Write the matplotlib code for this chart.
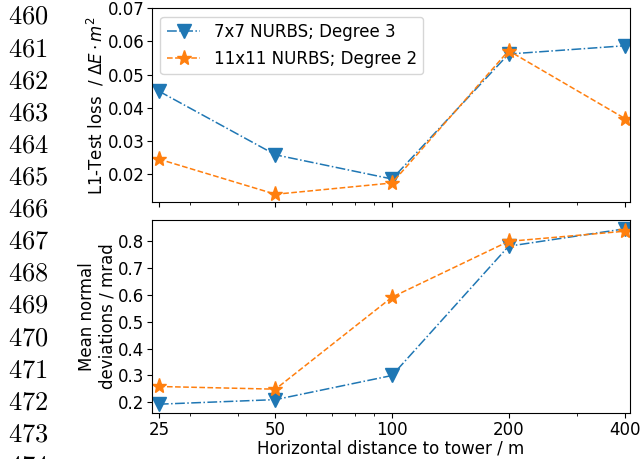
import matplotlib

matplotlib.use("Agg")
import matplotlib.pyplot as plt
from matplotlib.ticker import FixedLocator, NullFormatter

plt.rcParams["mathtext.fontset"] = "dejavusans"

distances = [25, 50, 100, 200, 400]
loss_7x7 = [0.0450, 0.0258, 0.0185, 0.0562, 0.0587]
loss_11x11 = [0.0245, 0.0139, 0.0173, 0.0572, 0.0367]
dev_7x7 = [0.193, 0.210, 0.300, 0.782, 0.847]
dev_11x11 = [0.259, 0.249, 0.592, 0.800, 0.838]
line_numbers = list(range(460, 475))

BLUE = "#1f77b4"
ORANGE = "#ff7f0e"

fig = plt.figure(figsize=(6.4, 4.59), dpi=100)
ax1 = fig.add_axes([0.2375, 0.5606, 0.7465, 0.4214])
ax2 = fig.add_axes([0.2375, 0.1003, 0.7465, 0.4204], sharex=ax1)

for ax, a, b in [(ax1, loss_7x7, loss_11x11), (ax2, dev_7x7, dev_11x11)]:
    ax.plot(distances, a, "-.", color=BLUE, marker="v", ms=10, lw=1.1,
            label="7x7 NURBS; Degree 3")
    ax.plot(distances, b, "--", color=ORANGE, marker="*", ms=11, lw=1.1,
            label="11x11 NURBS; Degree 2")
    ax.set_xscale("log")
    ax.tick_params(labelsize=12, pad=2)

ax1.set_xlim(24, 411)
ax2.xaxis.set_major_locator(FixedLocator(distances))
ax2.set_xticklabels([str(d) for d in distances])
ax2.xaxis.set_minor_formatter(NullFormatter())
plt.setp(ax1.get_xticklabels(), visible=False)

ax1.set_ylim(top=0.07)
ax1.set_yticks([0.02, 0.03, 0.04, 0.05, 0.06, 0.07])
ax2.set_yticks([0.2, 0.3, 0.4, 0.5, 0.6, 0.7, 0.8])

ax1.set_ylabel(r"L1-Test loss  / $\Delta E \cdot m^2$", fontsize=12, labelpad=1)
ax2.set_ylabel("Mean normal\ndeviations / mrad", fontsize=12, labelpad=1)
ax2.set_xlabel("Horizontal distance to tower / m", fontsize=12, labelpad=1)
fig.align_ylabels([ax1, ax2])

ax1.legend(loc="upper left", fontsize=12)

# line numbers of the paper page
for i, n in enumerate(line_numbers):
    y = 1 - (17 + 32.1 * i) / 459
    fig.text(0.012, y, r"$\mathrm{%d}$" % n, fontsize=19, va="center",
             ha="left", math_fontfamily="cm")

fig.savefig("out.png", dpi=100)
